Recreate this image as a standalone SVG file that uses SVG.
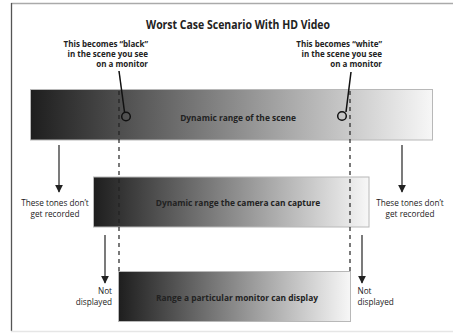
<svg xmlns="http://www.w3.org/2000/svg" width="453" height="333" viewBox="0 0 453 333">
<style>
.t{font-family:"Open Sans","Liberation Sans",sans-serif;fill:#222}
.b{font-weight:bold}
.bar{stroke:#b8b8b8;stroke-width:1}
.arr{stroke:#333;stroke-width:1.3;fill:none}
.dash{stroke:#222;stroke-width:1.2;stroke-dasharray:4 4;fill:none}
.lead{stroke:#111;stroke-width:1.5;fill:none}
</style>
<defs>
<linearGradient id="g" x1="0" y1="0" x2="1" y2="0">
<stop offset="0" stop-color="#1e1e1e"/>
<stop offset="0.5" stop-color="#8a8a8a"/>
<stop offset="1" stop-color="#f7f7f7"/>
</linearGradient>
<marker id="ah" viewBox="0 0 10 10" refX="9" refY="5" markerWidth="6" markerHeight="6" orient="auto" markerUnits="strokeWidth">
<path d="M0,0 L10,5 L0,10 z" fill="#222"/>
</marker>
</defs>
<rect x="0" y="0" width="453" height="333" fill="#fff"/>
<g id="frame">
<line x1="11" y1="3.5" x2="453" y2="3.5" stroke="#aaa" stroke-width="1.5"/>
<line x1="11.5" y1="3" x2="11.5" y2="331" stroke="#555" stroke-width="1.3"/>
<line x1="11" y1="331.5" x2="453" y2="331.5" stroke="#e6e6e6" stroke-width="1.5"/>
</g>
<text class="t b" x="238" y="29" font-size="11.5" text-anchor="middle" textLength="184" lengthAdjust="spacingAndGlyphs">Worst Case Scenario With HD Video</text>
<g id="scene">
<rect class="bar" x="30.5" y="89.5" width="402" height="50.5" fill="url(#g)"/>
<text class="t b" x="238" y="120.5" font-size="8.4" text-anchor="middle" fill="#2a2a2a">Dynamic range of the scene</text>
</g>
<g id="camera">
<rect class="bar" x="93.5" y="177" width="275.5" height="50" fill="url(#g)"/>
<text class="t b" x="238" y="206" font-size="8.4" text-anchor="middle">Dynamic range the camera can capture</text>
</g>
<g id="monitor">
<rect class="bar" x="118.5" y="271.5" width="232" height="50" fill="url(#g)"/>
<text class="t b" x="237" y="301" font-size="8.4" text-anchor="middle">Range a particular monitor can display</text>
</g>
<g id="black-note">
<text class="t b" font-size="8" text-anchor="end"><tspan x="148" y="47">This becomes “black”</tspan><tspan x="148" y="57">in the scene you see</tspan><tspan x="148" y="67">on a monitor</tspan></text>
</g>
<g id="white-note">
<text class="t b" font-size="8" text-anchor="end"><tspan x="382" y="47">This becomes “white”</tspan><tspan x="382" y="57">in the scene you see</tspan><tspan x="382" y="67">on a monitor</tspan></text>
</g>
<g id="left-lost">
<text class="t" font-size="8.2" text-anchor="middle"><tspan x="55" y="206">These tones don’t</tspan><tspan x="55" y="217">get recorded</tspan></text>
</g>
<g id="right-lost">
<text class="t" font-size="8.2" text-anchor="middle"><tspan x="410" y="206">These tones don’t</tspan><tspan x="410" y="217">get recorded</tspan></text>
</g>
<g id="left-nd">
<text class="t" font-size="8.2" text-anchor="end"><tspan x="112" y="294">Not</tspan><tspan x="112" y="304.5">displayed</tspan></text>
</g>
<g id="right-nd">
<text class="t" font-size="8.2" text-anchor="start"><tspan x="357.5" y="294">Not</tspan><tspan x="357.5" y="304.5">displayed</tspan></text>
</g>
<g id="connectors">
<line class="dash" x1="119" y1="91" x2="119" y2="271"/>
<line class="dash" x1="350" y1="91" x2="350" y2="271"/>
<line class="lead" x1="119" y1="71" x2="124.5" y2="112"/>
<circle cx="126" cy="116.5" r="4.3" fill="none" stroke="#111" stroke-width="1.5"/>
<line class="lead" x1="351" y1="72" x2="346" y2="112"/>
<circle cx="342" cy="116" r="4.3" fill="none" stroke="#111" stroke-width="1.5"/>
<line class="arr" x1="59" y1="145" x2="59" y2="192" marker-end="url(#ah)"/>
<line class="arr" x1="402" y1="145" x2="402" y2="192" marker-end="url(#ah)"/>
<line class="arr" x1="105" y1="235" x2="105" y2="283" marker-end="url(#ah)"/>
<line class="arr" x1="362" y1="235" x2="362" y2="283" marker-end="url(#ah)"/>
</g>
</svg>
